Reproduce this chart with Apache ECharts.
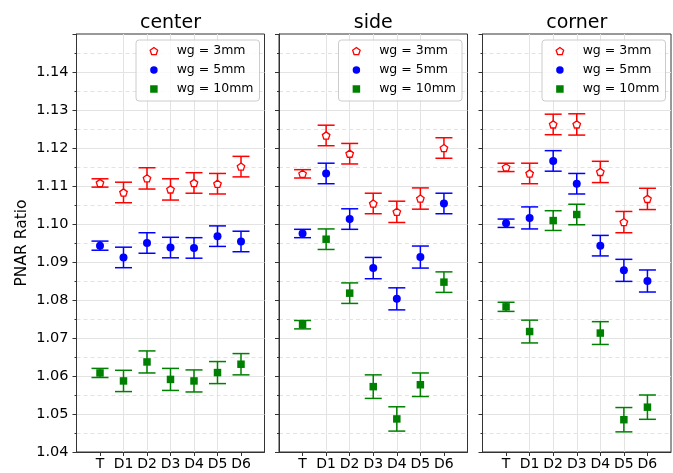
<!DOCTYPE html>
<html><head><meta charset="utf-8">
<script src="https://cdn.jsdelivr.net/npm/echarts@6.0.0/dist/echarts.min.js"></script>
<style>html,body{margin:0;padding:0;background:#fff}#c{width:673px;height:473px}</style>
</head><body><div id="c"></div>
<script>
// ---- data ----
const categories = ['T', 'D1', 'D2', 'D3', 'D4', 'D5', 'D6'];
const panelTitles = ['center', 'side', 'corner'];
const seriesNames = ['wg = 3mm', 'wg = 5mm', 'wg = 10mm'];
const yAxisLabel = 'PNAR Ratio';

const center3mm    = [1.1108, 1.1083, 1.1120, 1.1091, 1.1108, 1.1106, 1.1151];
const center3mmErr = [0.0011, 0.0027, 0.0028, 0.0028, 0.0027, 0.0027, 0.0027];
const center5mm    = [1.0943, 1.0912, 1.0950, 1.0938, 1.0937, 1.0968, 1.0954];
const center5mmErr = [0.0012, 0.0027, 0.0027, 0.0027, 0.0027, 0.0027, 0.0027];
const center10mm   = [1.0608, 1.0587, 1.0637, 1.0591, 1.0587, 1.0609, 1.0631];
const center10mmErr= [0.0012, 0.0028, 0.0029, 0.0029, 0.0029, 0.0029, 0.0028];

const side3mm      = [1.1132, 1.1233, 1.1185, 1.1054, 1.1032, 1.1067, 1.1200];
const side3mmErr   = [0.0011, 0.0027, 0.0027, 0.0027, 0.0028, 0.0028, 0.0027];
const side5mm      = [1.0975, 1.1133, 1.1013, 1.0884, 1.0803, 1.0913, 1.1054];
const side5mmErr   = [0.0011, 0.0027, 0.0027, 0.0028, 0.0029, 0.0029, 0.0027];
const side10mm     = [1.0735, 1.0960, 1.0818, 1.0572, 1.0487, 1.0577, 1.0847];
const side10mmErr  = [0.0011, 0.0027, 0.0027, 0.0031, 0.0032, 0.0031, 0.0027];

const corner3mm    = [1.1149, 1.1133, 1.1262, 1.1262, 1.1137, 1.1005, 1.1066];
const corner3mmErr = [0.0011, 0.0027, 0.0027, 0.0028, 0.0028, 0.0028, 0.0028];
const corner5mm    = [1.1002, 1.1016, 1.1166, 1.1106, 1.0943, 1.0878, 1.0850];
const corner5mmErr = [0.0011, 0.0029, 0.0027, 0.0027, 0.0027, 0.0029, 0.0029];
const corner10mm   = [1.0782, 1.0717, 1.1009, 1.1025, 1.0713, 1.0485, 1.0518];
const corner10mmErr= [0.0012, 0.0030, 0.0026, 0.0027, 0.0030, 0.0032, 0.0032];

const yMin = 1.04, yMax = 1.15, yStep = 0.01;

// ---- build ----
const panelData = [
  [[center3mm, center3mmErr], [center5mm, center5mmErr], [center10mm, center10mmErr]],
  [[side3mm, side3mmErr], [side5mm, side5mmErr], [side10mm, side10mmErr]],
  [[corner3mm, corner3mmErr], [corner5mm, corner5mmErr], [corner10mm, corner10mmErr]]
];
const colors = ['#ff0000', '#0000ff', '#008000'];
const pentagon = 'path://M50,0 L97.55,34.55 L79.39,90.45 L20.61,90.45 L2.45,34.55 Z';
const symbols = [pentagon, 'circle', 'rect'];
const symbolSizes = [7.5, 8, 7.5];
const itemStyles = [
  {color: '#ffffff', borderColor: '#ff0000', borderWidth: 1.3, opacity: 1},
  {color: '#0000ff', borderWidth: 0, opacity: 1},
  {color: '#008000', borderWidth: 0, opacity: 1}
];
const FONT = '"DejaVu Sans", sans-serif';

const grids = [
  {left: 76.5, top: 34, width: 188, height: 418},
  {left: 279, top: 34, width: 188.5, height: 418},
  {left: 482.5, top: 34, width: 188.5, height: 418}
];
const legendLefts = [136, 338.5, 542];

const option = {
  animation: false,
  backgroundColor: '#ffffff',
  textStyle: {fontFamily: FONT},
  title: panelTitles.map((t, i) => ({
    text: t,
    left: grids[i].left + grids[i].width / 2,
    top: 14,
    padding: 0,
    textAlign: 'center',
    textStyle: {fontSize: 19, fontWeight: 'normal', color: '#000', fontFamily: FONT}
  })),
  grid: grids.map(g => Object.assign({show: true, borderColor: '#333', borderWidth: 1, backgroundColor: 'transparent', containLabel: false}, g)),
  xAxis: panelTitles.map((t, i) => ({
    type: 'value', gridIndex: i, min: -1, max: categories.length, interval: 1,
    axisLine: {show: true, onZero: false, lineStyle: {color: '#333', width: 1}},
    axisTick: {show: true, length: 4, lineStyle: {color: '#333'}, customValues: categories.map((c, j) => j)},
    axisLabel: {show: true, customValues: categories.map((c, j) => j), formatter: v => categories[v] !== undefined ? categories[v] : '', fontSize: 14, color: '#000', margin: 5, fontFamily: FONT},
    splitLine: {show: true, showMinLine: false, showMaxLine: false, lineStyle: {color: '#e3e3e3', width: 1}}
  })),
  yAxis: panelTitles.map((t, i) => ({
    type: 'value', gridIndex: i, min: yMin, max: yMax, interval: yStep,
    axisLine: {show: true, onZero: false, lineStyle: {color: '#333', width: 1}},
    axisTick: {show: true, length: 4, lineStyle: {color: '#333'}},
    minorTick: {show: true, splitNumber: 2, length: 2, lineStyle: {color: '#333'}},
    splitLine: {show: true, showMinLine: false, showMaxLine: false, lineStyle: {color: '#e3e3e3', width: 1}},
    minorSplitLine: {show: true, lineStyle: {color: '#e3e3e3', width: 1, type: [4, 3]}},
    axisLabel: {show: i === 0, showMaxLabel: false, formatter: v => v.toFixed(2), fontSize: 14.5, color: '#000', margin: 8, fontFamily: FONT}
  })),
  legend: panelTitles.map((t, i) => ({
    left: legendLefts[i], top: 40, orient: 'vertical',
    selectedMode: false,
    data: seriesNames.map((n, k) => ({name: n, icon: symbols[k], itemStyle: itemStyles[k]})),
    itemWidth: 7.5, itemHeight: 7.5, itemGap: 5,
    padding: [4, 6, 5, 13.5],
    backgroundColor: 'rgba(255,255,255,0.8)', borderColor: '#cccccc', borderWidth: 1, borderRadius: 3,
    textStyle: {fontSize: 12.5, fontFamily: FONT, color: '#000', padding: [0, 0, 0, 14], lineHeight: 14}
  })),
  graphic: [{
    type: 'text', x: 22, y: 243, rotation: Math.PI / 2,
    style: {text: yAxisLabel, font: '15.5px ' + FONT, fill: '#000', textAlign: 'center', textVerticalAlign: 'middle'}
  }],
  series: []
};

panelData.forEach((panel, i) => {
  panel.forEach(([vals, errs], k) => {
    const color = colors[k];
    option.series.push({
      type: 'custom', name: 'err' + i + k, xAxisIndex: i, yAxisIndex: i, silent: true, z: 2 + k * 2,
      data: categories.map((c, j) => [j, vals[j], errs[j]]),
      encode: {x: 0, y: 1},
      renderItem: (params, api) => {
        const x = api.value(0), y = api.value(1), e = api.value(2);
        const top = api.coord([x, y + e]), bot = api.coord([x, y - e]);
        const hw = 8.5;
        const style = {stroke: color, lineWidth: 1.5};
        return {type: 'group', children: [
          {type: 'line', shape: {x1: top[0], y1: top[1], x2: bot[0], y2: bot[1]}, style},
          {type: 'line', shape: {x1: top[0] - hw, y1: top[1], x2: top[0] + hw, y2: top[1]}, style},
          {type: 'line', shape: {x1: bot[0] - hw, y1: bot[1], x2: bot[0] + hw, y2: bot[1]}, style}
        ]};
      }
    });
    option.series.push({
      type: 'scatter', name: seriesNames[k], xAxisIndex: i, yAxisIndex: i, silent: true, z: 3 + k * 2,
      symbol: symbols[k], symbolSize: symbolSizes[k], symbolKeepAspect: true,
      itemStyle: itemStyles[k],
      data: categories.map((c, j) => [j, vals[j]])
    });
  });
});

const chart = echarts.init(document.getElementById('c'), null, {renderer: 'canvas'});
chart.setOption(option);
</script>
</body></html>
